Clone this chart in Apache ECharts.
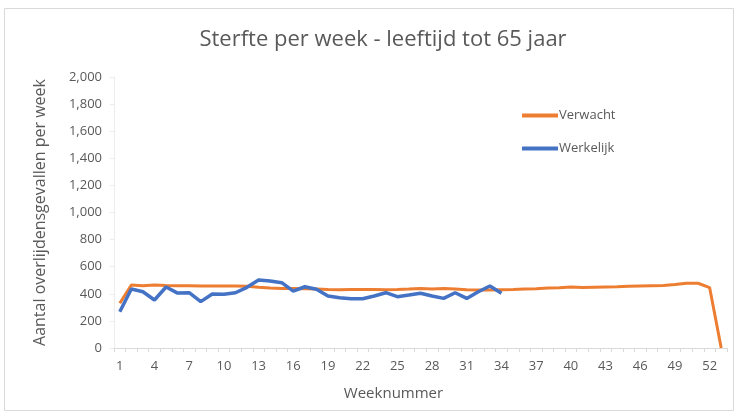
<!DOCTYPE html>
<html>
<head>
<meta charset="utf-8">
<script src="https://cdn.jsdelivr.net/npm/echarts@6/dist/echarts.min.js"></script>
<style>
  html, body { margin: 0; padding: 0; background: #fff; }
  #chart { width: 738px; height: 418px; }
</style>
</head>
<body>
<div id="chart"></div>
<script>
const weeks = Array.from({ length: 53 }, (_, i) => String(i + 1));

// Verwacht (expected)
const verwacht = [
  330, 465, 460, 465, 462, 460, 460, 458, 458, 458,
  458, 455, 448, 442, 440, 440, 438, 435, 432, 430,
  432, 432, 432, 430, 432, 435, 440, 435, 440, 435,
  430, 428, 428, 430, 432, 435, 438, 442, 445, 450,
  446, 448, 450, 452, 455, 458, 460, 462, 468, 478,
  478, 445, 0,
];

// Werkelijk (actual), weeks 1-34
const werkelijk = [
  268, 435, 415, 354, 450, 405, 408, 342, 398, 396,
  408, 448, 502, 494, 482, 420, 452, 433, 384, 371,
  364, 364, 384, 408, 379, 391, 404, 384, 366, 408,
  366, 415, 458, 404,
];

const textColor = "#595959";
const fontFamily = "'Open Sans', sans-serif";

const chart = echarts.init(document.getElementById("chart"), null, { renderer: "canvas" });

chart.setOption({
  animation: false,
  textStyle: { fontFamily },
  graphic: [
    {
      type: "rect",
      shape: { x: 4.5, y: 8.5, width: 729, height: 402 },
      style: { fill: "none", stroke: "#d9d9d9", lineWidth: 1 },
      silent: true,
    },
  ],
  title: {
    text: "Sterfte per week - leeftijd tot 65 jaar",
    left: 378,
    top: 24,
    textAlign: "center",
    textStyle: { fontFamily, fontSize: 22, fontWeight: "normal", color: textColor },
  },
  legend: {
    orient: "vertical",
    left: 517,
    top: 104,
    itemGap: 20,
    itemWidth: 36,
    itemHeight: 4,
    icon: "rect",
    textStyle: { fontFamily, fontSize: 13, color: textColor, padding: [0, 0, 0, -4] },
    data: ["Verwacht", "Werkelijk"],
  },
  grid: { left: 114, right: 11, top: 77, bottom: 70 },
  xAxis: {
    type: "category",
    data: weeks,
    boundaryGap: true,
    name: "Weeknummer",
    nameLocation: "middle",
    nameGap: 38,
    nameTextStyle: { fontFamily, fontSize: 15, color: textColor, padding: [0, 54, 0, 0] },
    axisLine: { lineStyle: { color: "#d9d9d9", width: 1 } },
    axisTick: { show: true, interval: 0, length: 4, lineStyle: { color: "#d9d9d9" } },
    axisLabel: { interval: 2, color: textColor, fontSize: 13, margin: 12 },
    splitLine: { show: false },
  },
  yAxis: {
    type: "value",
    min: 0,
    max: 2000,
    interval: 200,
    name: "Aantal overlijdensgevallen per week",
    nameLocation: "middle",
    nameGap: 66,
    nameTextStyle: { fontFamily, fontSize: 16, color: textColor },
    axisLine: { show: true, lineStyle: { color: "#ececec" } },
    axisTick: { show: true, length: 4, lineStyle: { color: "#ececec" } },
    axisLabel: {
      color: textColor,
      fontSize: 13,
      margin: 12,
      formatter: (v) => v.toLocaleString("en-US"),
    },
    splitLine: { show: false },
  },
  series: [
    {
      name: "Verwacht",
      type: "line",
      data: verwacht,
      symbol: "none",
      lineStyle: { color: "#ED7D31", width: 3 },
      itemStyle: { color: "#ED7D31" },
    },
    {
      name: "Werkelijk",
      type: "line",
      data: werkelijk,
      symbol: "none",
      lineStyle: { color: "#4472C4", width: 3.5 },
      itemStyle: { color: "#4472C4" },
    },
  ],
});
</script>
</body>
</html>
